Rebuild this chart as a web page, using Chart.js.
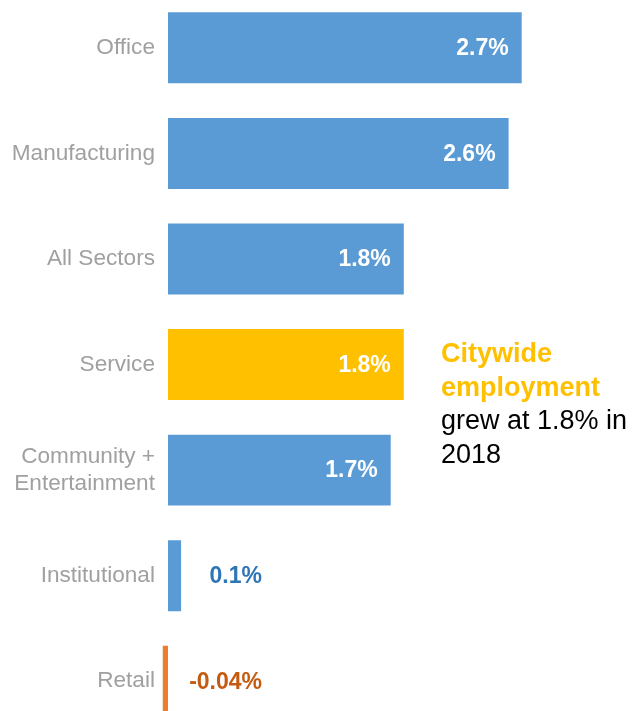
<!DOCTYPE html>
<html>
<head>
<meta charset="utf-8">
<script src="https://cdn.jsdelivr.net/npm/chart.js@4"></script>
<style>
    html, body { margin: 0; padding: 0; background: #fff; overflow: hidden; }
    body { width: 642px; height: 711px; position: relative; }
    /* el eje Y reserva media etiqueta arriba y abajo, por eso el lienzo sobresale */
    #wrap { position: absolute; left: 0; top: -25.06px; width: 642px; height: 779.1px; }
</style>
</head>
<body>
<div id="wrap"><canvas id="chart-sectores"></canvas></div>
<script>
// Crecimiento del empleo por sector, 2018
const sectores = ['Office', 'Manufacturing', 'All Sectors', 'Service', ['Community +', 'Entertainment'], 'Institutional', 'Retail'];
const crecimiento = [2.7, 2.6, 1.8, 1.8, 1.7, 0.1, -0.04];
const etiquetas = ['2.7%', '2.6%', '1.8%', '1.8%', '1.7%', '0.1%', '-0.04%'];
const coloresBarra = ['#5B9BD5', '#5B9BD5', '#5B9BD5', '#FFC000', '#5B9BD5', '#5B9BD5', '#ED7D31'];
const coloresFuera = ['#2E75B6', '#2E75B6', '#2E75B6', '#2E75B6', '#2E75B6', '#2E75B6', '#C55A11'];
const nota = [
    { texto: 'Citywide', negrita: true },
    { texto: 'employment', negrita: true },
    { texto: 'grew at 1.8% in', negrita: false },
    { texto: '2018', negrita: false }
];

const FUENTE = 'Arial, "Liberation Sans", sans-serif';
const DESPLAZAMIENTO = 25.06; // lo que el lienzo sube respecto a la página

// Etiquetas de valor: dentro de la barra si es larga, fuera si es pequeña
const pluginEtiquetas = {
    id: 'etiquetasValor',
    afterDatasetsDraw(chart) {
        const ctx = chart.ctx;
        const meta = chart.getDatasetMeta(0);
        const xScale = chart.scales.x;
        const cero = xScale.getPixelForValue(0);
        ctx.save();
        ctx.font = 'bold 23px ' + FUENTE;
        ctx.textBaseline = 'middle';
        ctx.textAlign = 'right';
        meta.data.forEach((bar, i) => {
            const v = crecimiento[i];
            if (v >= 1) {
                ctx.fillStyle = '#ffffff';
                ctx.fillText(etiquetas[i], bar.x - 13, bar.y + 1);
            } else {
                ctx.fillStyle = coloresFuera[i];
                ctx.fillText(etiquetas[i], cero + 94, bar.y + 1);
            }
        });
        ctx.restore();
    }
};

// Nota al lado de la barra de Service
const pluginNota = {
    id: 'nota',
    afterDraw(chart) {
        const ctx = chart.ctx;
        ctx.save();
        ctx.textAlign = 'left';
        ctx.textBaseline = 'alphabetic';
        let y = 362 + DESPLAZAMIENTO;
        nota.forEach(linea => {
            ctx.font = (linea.negrita ? 'bold ' : '') + '27px ' + FUENTE;
            ctx.fillStyle = linea.negrita ? '#FFC000' : '#000000';
            ctx.fillText(linea.texto, 441, y);
            y += 33.7;
        });
        ctx.restore();
    }
};

new Chart(document.getElementById('chart-sectores'), {
    type: 'bar',
    data: {
        labels: sectores,
        datasets: [{
            data: crecimiento,
            backgroundColor: coloresBarra,
            borderWidth: 0,
            categoryPercentage: 1,
            barPercentage: 0.672
        }]
    },
    options: {
        indexAxis: 'y',
        responsive: true,
        maintainAspectRatio: false,
        animation: false,
        layout: { padding: { left: 0, right: 2.4, top: 0, bottom: 0 } },
        plugins: {
            legend: { display: false },
            tooltip: { enabled: false }
        },
        scales: {
            x: {
                display: false,
                min: -0.05,
                max: 3.6
            },
            y: {
                afterFit(scale) { scale.width = 161.45; },
                grid: { display: false, drawTicks: false, tickLength: 0 },
                border: { display: false },
                ticks: {
                    color: '#a0a0a0',
                    padding: 6.5,
                    font: { family: FUENTE, size: 22.6, lineHeight: 1.2 }
                }
            }
        }
    },
    plugins: [pluginEtiquetas, pluginNota]
});
</script>
</body>
</html>
